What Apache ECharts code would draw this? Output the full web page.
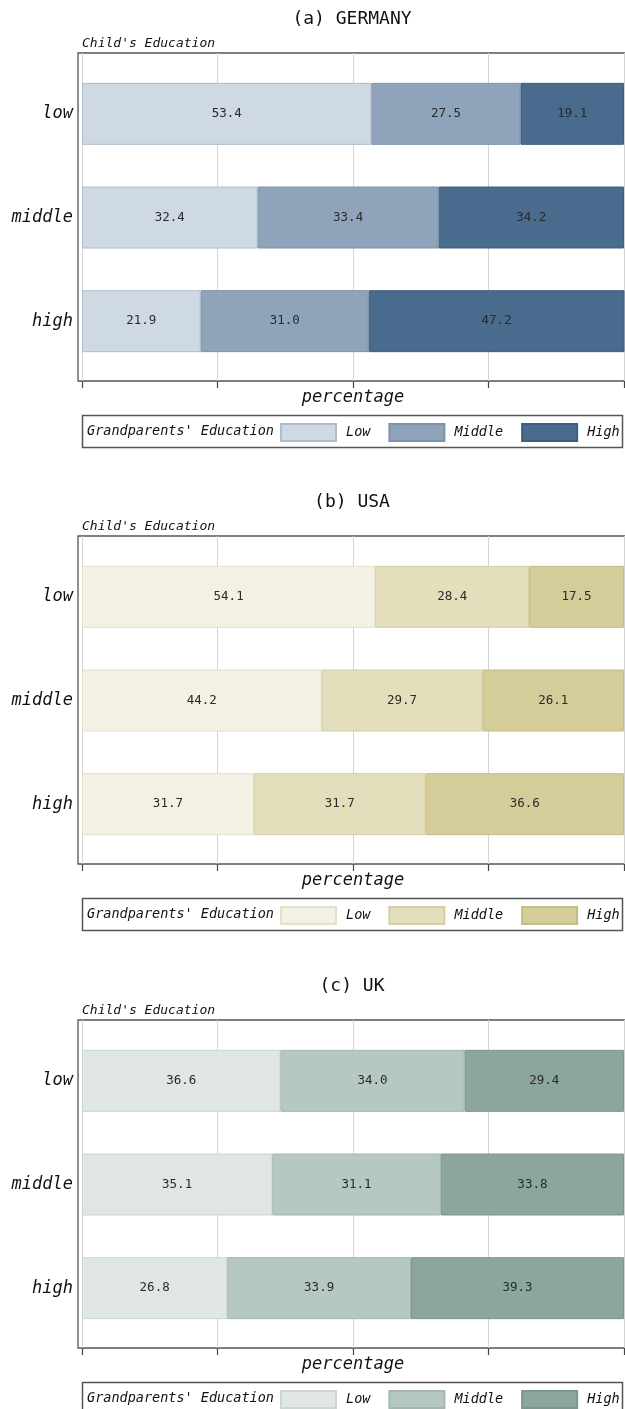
<!DOCTYPE html>
<html>
<head>
<meta charset="utf-8">
<script src="https://cdn.jsdelivr.net/npm/echarts@6/dist/echarts.min.js"></script>
<style>
	html, body { margin: 0; padding: 0; background: #fff; overflow: hidden; }
	.panel { position: absolute; left: 0; width: 625px; height: 484px; }
</style>
</head>
<body>
<div id="panelA" class="panel" style="top:0px"></div>
<div id="panelB" class="panel" style="top:483px"></div>
<div id="panelC" class="panel" style="top:967px"></div>
<script>
	// child's education (rows)
	var categories = ["low", "middle", "high"];
	// grandparents' education (stack parts)
	var legendNames = ["Low", "Middle", "High"];

	var germanyLow = [53.4, 32.4, 21.9];
	var germanyMiddle = [27.5, 33.4, 31.0];
	var germanyHigh = [19.1, 34.2, 47.2];

	var usaLow = [54.1, 44.2, 31.7];
	var usaMiddle = [28.4, 29.7, 31.7];
	var usaHigh = [17.5, 26.1, 36.6];

	var ukLow = [36.6, 35.1, 26.8];
	var ukMiddle = [34.0, 31.1, 33.9];
	var ukHigh = [29.4, 33.8, 39.3];

	var xTicks = [0, 25, 50, 75, 100];

	var MONO = "'DejaVu Sans Mono', 'Liberation Mono', monospace";

	function buildPanel(elementId, title, values, fills, borders)
	{
		var chart = echarts.init(document.getElementById(elementId), null, { renderer: "canvas" });

		var series = [];
		for(var i=0; i<legendNames.length; i++)
		{
			series.push({
				name: legendNames[i],
				type: "bar",
				stack: "total",
				xAxisIndex: 2,
				yAxisIndex: 2,
				barWidth: 62,
				data: values[i],
				itemStyle: { color: fills[i], borderColor: borders[i], borderWidth: 1 },
				label: {
					show: true,
					position: "inside",
					fontFamily: MONO,
					fontSize: 12.5,
					color: "#2a2a2a",
					formatter: function(p){ return p.value.toFixed(1); }
				},
				emphasis: { disabled: true },
				animation: false
			});
		}

		var option = {
			animation: false,
			grid: [
				// frame
				{ left: 78, top: 53, width: 570, height: 328, show: true, borderColor: "#555", borderWidth: 1.3, backgroundColor: "transparent" },
				// grid lines + ticks
				{ left: 82, top: 53, width: 542, height: 328 },
				// bars
				{ left: 82, top: 62, width: 542, height: 311 }
			],
			xAxis: [
				{ gridIndex: 0, type: "value", show: false, min: 0, max: 1 },
				{
					gridIndex: 1, type: "value", min: xTicks[0], max: xTicks[xTicks.length-1], interval: 25,
					axisLine: { show: false },
					axisTick: { show: true, length: 7, lineStyle: { color: "#444", width: 1.2 } },
					axisLabel: { show: false },
					splitLine: { show: true, lineStyle: { color: "#d4d4d4", width: 1 } },
					name: "percentage",
					nameLocation: "middle",
					nameGap: 8,
					nameTextStyle: { fontFamily: MONO, fontStyle: "italic", fontSize: 17, color: "#111", verticalAlign: "top" }
				},
				{ gridIndex: 2, type: "value", min: 0, max: 100, show: false }
			],
			yAxis: [
				{ gridIndex: 0, type: "value", show: false, min: 0, max: 1 },
				{ gridIndex: 1, type: "value", show: false, min: 0, max: 1 },
				{
					gridIndex: 2, type: "category", data: categories, inverse: true,
					axisLine: { show: false },
					axisTick: { show: false },
					axisLabel: { margin: 9, fontFamily: MONO, fontStyle: "italic", fontSize: 17, color: "#111" }
				}
			],
			legend: {
				left: 280,
				top: 423,
				padding: 0,
				itemWidth: 55,
				itemHeight: 17,
				itemGap: 18,
				selectedMode: false,
				icon: "rect",
				data: legendNames,
				textStyle: { fontFamily: MONO, fontStyle: "italic", fontSize: 13.5, color: "#111", padding: [0, 0, 0, 5] }
			},
			graphic: [
				{
					type: "text",
					style: { text: title, x: 352, y: 19, fontFamily: MONO, fontSize: 18, fill: "#111", align: "center", verticalAlign: "middle" }
				},
				{
					type: "text",
					style: { text: "Child's Education", x: 82, y: 44, fontFamily: MONO, fontStyle: "italic", fontSize: 13, fill: "#111", align: "left", verticalAlign: "middle" }
				},
				{
					type: "rect",
					shape: { x: 82.5, y: 415.5, width: 540, height: 32 },
					style: { fill: "#fff", stroke: "#555", lineWidth: 1.5 },
					z: -1
				},
				{
					type: "text",
					style: { text: "Grandparents' Education", x: 87, y: 431, fontFamily: MONO, fontStyle: "italic", fontSize: 13.5, fill: "#111", align: "left", verticalAlign: "middle" }
				}
			],
			series: series
		};

		chart.setOption(option);
		return chart;
	}

	buildPanel("panelA", "(a) GERMANY",
		[germanyLow, germanyMiddle, germanyHigh],
		["#CFD9E3", "#8FA4BA", "#496B8D"],
		["#AEBDCC", "#7E93A9", "#3E5E80"]);

	buildPanel("panelB", "(b) USA",
		[usaLow, usaMiddle, usaHigh],
		["#F3F1E3", "#E3DFBD", "#D4CD9A"],
		["#E4E0CC", "#D3CEA6", "#C4BC86"]);

	buildPanel("panelC", "(c) UK",
		[ukLow, ukMiddle, ukHigh],
		["#DFE6E4", "#B6C8C4", "#8CA69B"],
		["#CBD5D2", "#A3B6B2", "#7D978C"]);
</script>
</body>
</html>
